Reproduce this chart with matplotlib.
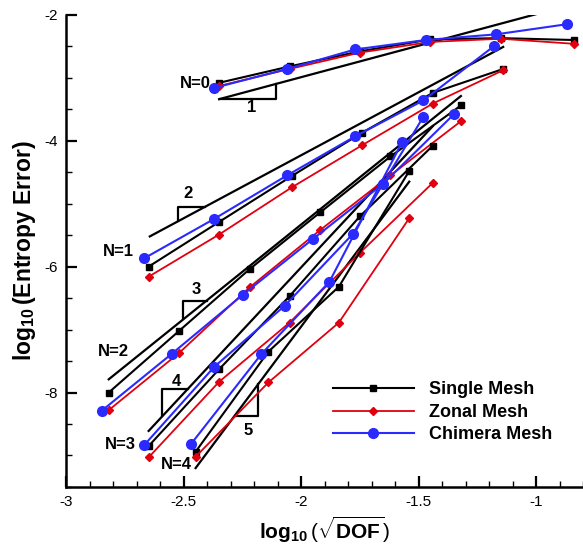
import matplotlib
matplotlib.use("Agg")
import matplotlib.pyplot as plt
import numpy as np

# x positions (log10 sqrt DOF) for single / zonal meshes, per polynomial order
X_N0 = [-2.35, -2.05, -1.75, -1.45, -1.15, -0.84]
X_N1 = [-2.65, -2.35, -2.04, -1.74, -1.44, -1.14]
X_N2 = [-2.82, -2.52, -2.22, -1.92, -1.62, -1.32]
X_N3 = [-2.65, -2.35, -2.05, -1.75, -1.44]
X_N4 = [-2.45, -2.14, -1.84, -1.54]

# chimera mesh has slightly more DOF
XC_N0 = [-2.37, -2.06, -1.77, -1.47, -1.17, -0.87]
XC_N1 = [-2.67, -2.37, -2.06, -1.77, -1.48, -1.18]
XC_N2 = [-2.85, -2.55, -2.25, -1.95, -1.65, -1.35]
XC_N3 = [-2.67, -2.37, -2.07, -1.78, -1.48]
XC_N4 = [-2.47, -2.17, -1.88, -1.57]

SINGLE_N0 = [-3.08, -2.82, -2.58, -2.39, -2.37, -2.40]
SINGLE_N1 = [-6.00, -5.29, -4.56, -3.87, -3.24, -2.86]
SINGLE_N2 = [-8.00, -7.02, -6.04, -5.14, -4.25, -3.44]
SINGLE_N3 = [-8.85, -7.63, -6.47, -5.20, -4.08]
SINGLE_N4 = [-8.94, -7.35, -6.32, -4.48]

ZONAL_N0 = [-3.13, -2.86, -2.60, -2.43, -2.38, -2.46]
ZONAL_N1 = [-6.16, -5.49, -4.74, -4.07, -3.41, -2.88]
ZONAL_N2 = [-8.28, -7.37, -6.33, -5.42, -4.55, -3.69]
ZONAL_N3 = [-9.03, -7.83, -6.89, -5.78, -4.67]
ZONAL_N4 = [-9.02, -7.84, -6.89, -5.23]

CHIMERA_N0 = [-3.16, -2.86, -2.55, -2.40, -2.31, -2.15]
CHIMERA_N1 = [-5.87, -5.24, -4.55, -3.93, -3.36, -2.50]
CHIMERA_N2 = [-8.29, -7.38, -6.45, -5.56, -4.68, -3.58]
CHIMERA_N3 = [-8.84, -7.59, -6.62, -5.48, -3.62]
CHIMERA_N4 = [-8.82, -7.39, -6.24, -4.02]

# reference slope lines (order N+1)
REF_SLOPE = [1, 2, 3, 4, 5]
REF_X0 = [-2.35, -2.645, -2.82, -2.65, -2.45]
REF_X1 = [-0.98, -1.14, -1.32, -1.44, -1.54]
REF_Y0 = [-3.34, -5.52, -7.79, -8.61, -9.20]

# slope triangles: start x on the line, width, drawn below or above the line
TRI_X = [-2.347, -2.524, -2.503, -2.591, -2.283]
TRI_W = [0.24, 0.114, 0.10, 0.109, 0.099]
TRI_SIDE = ["below", "above", "above", "above", "below"]
TRI_LABEL_XY = [(-2.212, -3.48), (-2.482, -4.84), (-2.446, -6.36), (-2.531, -7.82), (-2.226, -8.61)]

N_LABELS = ["N=0", "N=1", "N=2", "N=3", "N=4"]
N_LABEL_XY = [(-2.453, -3.09), (-2.777, -5.76), (-2.802, -7.35), (-2.772, -8.82), (-2.530, -9.15)]

plt.rcParams["font.family"] = ["Liberation Sans", "DejaVu Sans"]
plt.rcParams["mathtext.fontset"] = "custom"
plt.rcParams["mathtext.rm"] = "Liberation Sans"
plt.rcParams["mathtext.bf"] = "Liberation Sans:bold"
plt.rcParams["mathtext.it"] = "Liberation Sans:italic"

fig = plt.figure(figsize=(5.83, 5.49), dpi=100)
ax = fig.add_axes([0.114, 0.113, 0.886, 0.860])

xs = [X_N0, X_N1, X_N2, X_N3, X_N4]
xcs = [XC_N0, XC_N1, XC_N2, XC_N3, XC_N4]
singles = [SINGLE_N0, SINGLE_N1, SINGLE_N2, SINGLE_N3, SINGLE_N4]
zonals = [ZONAL_N0, ZONAL_N1, ZONAL_N2, ZONAL_N3, ZONAL_N4]
chimeras = [CHIMERA_N0, CHIMERA_N1, CHIMERA_N2, CHIMERA_N3, CHIMERA_N4]

red = "#e0000f"
blue = "#2a2aff"

for i in range(5):
    ax.plot(xs[i], singles[i], color="black", lw=1.5, marker="s", ms=4.5,
            label="Single Mesh" if i == 0 else None, zorder=3)
    ax.plot(xs[i], zonals[i], color=red, lw=1.3, marker="D", ms=4,
            label="Zonal Mesh" if i == 0 else None, zorder=3)
    ax.plot(xcs[i], chimeras[i], color=blue, lw=1.5, marker="o", ms=7,
            label="Chimera Mesh" if i == 0 else None, zorder=3)

# reference slopes and triangles
for i in range(5):
    s = REF_SLOPE[i]
    x0, x1, y0 = REF_X0[i], REF_X1[i], REF_Y0[i]
    ax.plot([x0, x1], [y0, y0 + s * (x1 - x0)], color="black", lw=1.6, zorder=2)

    ta = TRI_X[i]
    tb = ta + TRI_W[i]
    ya = y0 + s * (ta - x0)
    yb = y0 + s * (tb - x0)
    if TRI_SIDE[i] == "below":
        ax.plot([ta, tb, tb], [ya, ya, yb], color="black", lw=1.6, zorder=2)
    else:
        ax.plot([ta, ta, tb], [ya, yb, yb], color="black", lw=1.6, zorder=2)
    lx, ly = TRI_LABEL_XY[i]
    ax.text(lx, ly, str(s), ha="center", va="center", fontsize=12, fontweight="bold")

for lab, (lx, ly) in zip(N_LABELS, N_LABEL_XY):
    ax.text(lx, ly, lab, ha="center", va="center", fontsize=12, fontweight="bold")

ax.set_xlim(-3, -0.8)
ax.set_ylim(-9.5, -2)
ax.set_xticks([-3, -2.5, -2, -1.5, -1])
ax.set_xticklabels(["-3", "-2.5", "-2", "-1.5", "-1"])
ax.set_xticks(np.arange(-3, -0.79, 0.1), minor=True)
ax.set_yticks([-8, -6, -4, -2])
ax.set_yticklabels(["-8", "-6", "-4", "-2"])
ax.set_yticks(np.arange(-9.5, -1.99, 0.5), minor=True)

ax.spines["top"].set_visible(False)
ax.spines["right"].set_visible(False)
ax.spines["left"].set_linewidth(1.8)
ax.spines["bottom"].set_linewidth(1.8)
ax.tick_params(which="major", direction="in", length=8, width=1.6, labelsize=11, pad=6)
ax.tick_params(which="minor", direction="in", length=4, width=1.0)

ax.set_xlabel(r"$\mathbf{log_{10}}\,(\sqrt{\mathbf{DOF}})$", fontsize=15, labelpad=4)
ax.set_ylabel(r"$\mathbf{log_{10}}\,\mathbf{(Entropy\ Error)}$", fontsize=16.5, labelpad=5)

leg = ax.legend(loc="lower right", bbox_to_anchor=(0.971, 0.058), frameon=False,
                prop={"weight": "bold", "size": 13}, handlelength=4.5,
                handletextpad=0.8, labelspacing=0.3)

fig.savefig("out.png", dpi=100)
